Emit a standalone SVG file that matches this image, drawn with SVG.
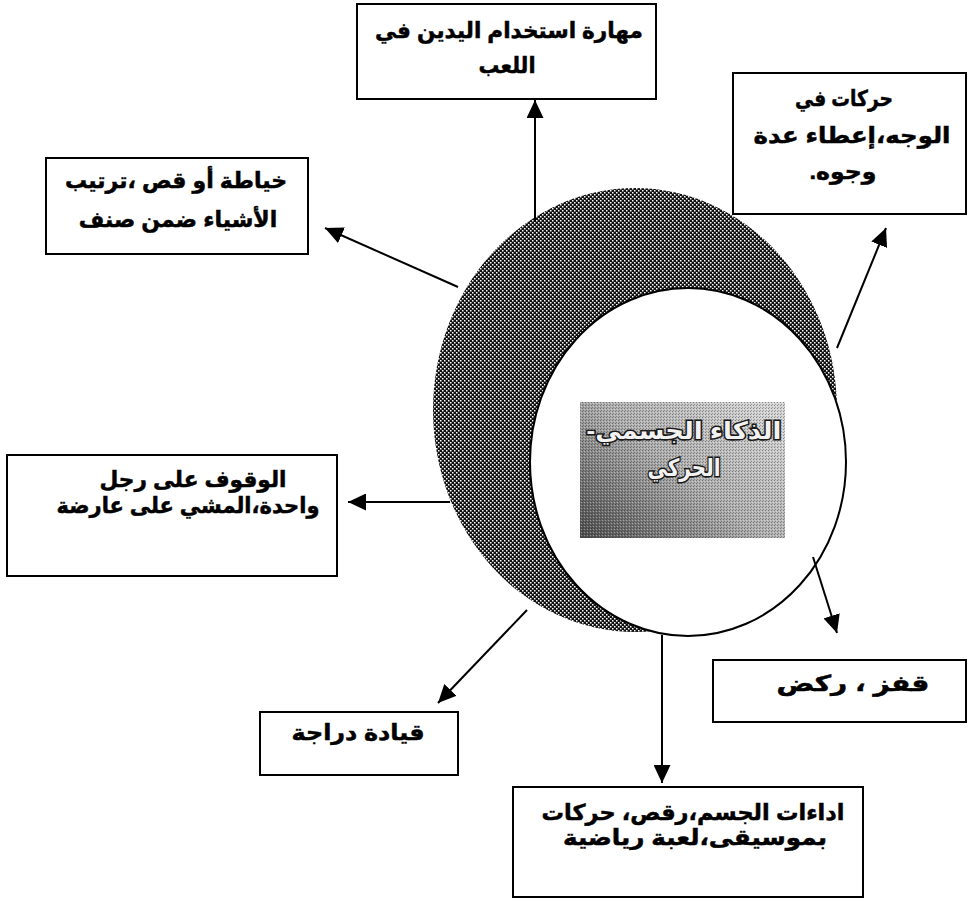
<svg xmlns="http://www.w3.org/2000/svg" width="968" height="901" viewBox="0 0 968 901">
<style>
.box{fill:#fff;stroke:#000;stroke-width:2}
.t{font-family:"Liberation Sans","DejaVu Sans",sans-serif;font-weight:bold;font-size:22px;text-anchor:middle;direction:rtl;fill:#000;stroke:#000;stroke-width:0.5}
.c{font-family:"Liberation Sans","DejaVu Sans",sans-serif;font-weight:bold;font-size:24px;text-anchor:middle;direction:rtl;fill:#f2f2f2;stroke:#1a1a1a;stroke-width:3;paint-order:stroke}
.ln{stroke:#000;stroke-width:2;fill:none;marker-end:url(#arr)}
</style>
<defs>
<pattern id="hatch" width="4" height="4" patternUnits="userSpaceOnUse">
<rect width="4" height="4" fill="#111"/>
<rect x="0" y="0" width="1.5" height="1.5" fill="#fff"/>
<rect x="2" y="2" width="1.5" height="1.5" fill="#fff"/>
</pattern>
<linearGradient id="grad" x1="0" y1="1" x2="1" y2="0.2">
<stop offset="0" stop-color="#4e4e4e"/>
<stop offset="0.55" stop-color="#b0b0b0"/>
<stop offset="1" stop-color="#d4d4d4"/>
</linearGradient>
<pattern id="grain" width="3" height="3" patternUnits="userSpaceOnUse">
<rect x="0" y="0" width="1" height="1" fill="#000" fill-opacity="0.35"/>
<rect x="2" y="1" width="1" height="1" fill="#fff" fill-opacity="0.35"/>
<rect x="1" y="2" width="1" height="1" fill="#000" fill-opacity="0.25"/>
</pattern>
<marker id="arr" viewBox="0 0 10 10" refX="10" refY="5" markerWidth="18" markerHeight="17" markerUnits="userSpaceOnUse" orient="auto" preserveAspectRatio="none">
<path d="M0,0 L10,5 L0,10 Z" fill="#000"/>
</marker>
</defs>

<g id="center-shape">
<ellipse cx="635" cy="410" rx="202" ry="222" fill="url(#hatch)"/>
<ellipse cx="688" cy="462" rx="158" ry="174" fill="#fff" stroke="#000" stroke-width="2"/>
</g>

<g id="connectors">
<line class="ln" x1="535" y1="222" x2="535" y2="100"/>
<line class="ln" x1="837" y1="348" x2="886" y2="228"/>
<line class="ln" x1="458" y1="287" x2="325" y2="228"/>
<line class="ln" x1="450" y1="502" x2="348" y2="502"/>
<line class="ln" x1="527" y1="610" x2="438" y2="703"/>
<line class="ln" x1="662" y1="635" x2="662" y2="783"/>
<line class="ln" x1="813" y1="557" x2="837" y2="633"/>
</g>

<g id="node-center">
<rect x="580" y="402" width="205" height="136" fill="url(#grad)"/>
<rect x="580" y="402" width="205" height="136" fill="url(#grain)"/>
<text class="c" x="684" y="439" textLength="195" lengthAdjust="spacingAndGlyphs">الذكاء الجسمي-</text>
<text class="c" x="684" y="476" textLength="73" lengthAdjust="spacingAndGlyphs">الحركي</text>
</g>

<g id="node-top">
<rect class="box" x="357" y="4" width="299" height="95"/>
<text class="t" x="509" y="38" textLength="268" lengthAdjust="spacingAndGlyphs">مهارة استخدام اليدين في</text>
<text class="t" x="507" y="73" textLength="57" lengthAdjust="spacingAndGlyphs">اللعب</text>
</g>

<g id="node-topright">
<rect class="box" x="733" y="73" width="233" height="141"/>
<text class="t" x="844" y="106" textLength="98" lengthAdjust="spacingAndGlyphs">حركات في</text>
<text class="t" x="852" y="143" textLength="197" lengthAdjust="spacingAndGlyphs">الوجه،إعطاء عدة</text>
<text class="t" x="843" y="179" textLength="67" lengthAdjust="spacingAndGlyphs">وجوه.</text>
</g>

<g id="node-topleft">
<rect class="box" x="46" y="158" width="262" height="96"/>
<text class="t" x="176" y="188">خياطة أو قص ،ترتيب</text>
<text class="t" x="178" y="227">الأشياء ضمن صنف</text>
</g>

<g id="node-left">
<rect class="box" x="7" y="455" width="330" height="121"/>
<text class="t" x="193" y="487" textLength="187" lengthAdjust="spacingAndGlyphs">الوقوف على رجل</text>
<text class="t" x="188" y="513" textLength="263" lengthAdjust="spacingAndGlyphs">واحدة،المشي على عارضة</text>
</g>

<g id="node-bottomright">
<rect class="box" x="713" y="660" width="253" height="62"/>
<text class="t" x="853" y="691" textLength="153" lengthAdjust="spacingAndGlyphs">قفز ، ركض</text>
</g>

<g id="node-bottomleft">
<rect class="box" x="260" y="712" width="198" height="63"/>
<text class="t" x="358" y="740" textLength="133" lengthAdjust="spacingAndGlyphs">قيادة دراجة</text>
</g>

<g id="node-bottom">
<rect class="box" x="513" y="787" width="350" height="110"/>
<text class="t" x="693" y="820" textLength="303" lengthAdjust="spacingAndGlyphs">اداءات الجسم،رقص، حركات</text>
<text class="t" x="695" y="845" textLength="264" lengthAdjust="spacingAndGlyphs">بموسيقى،لعبة رياضية</text>
</g>
</svg>
